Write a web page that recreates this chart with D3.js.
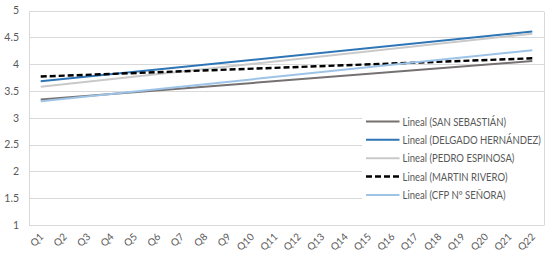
<!DOCTYPE html>
<html>
<head>
<meta charset="utf-8">
<script src="https://cdn.jsdelivr.net/npm/d3@7"></script>
<style>
  html, body { margin: 0; padding: 0; background: #ffffff; }
  svg { display: block; }
  text { font-family: Lato, "Open Sans", "Liberation Sans", sans-serif; fill: #595959; }
</style>
</head>
<body>
<svg id="chart" width="550" height="259"></svg>
<script>
// ---- data ----
const categories = ["Q1","Q2","Q3","Q4","Q5","Q6","Q7","Q8","Q9","Q10","Q11","Q12","Q13","Q14","Q15","Q16","Q17","Q18","Q19","Q20","Q21","Q22"];
const yTicks = [1, 1.5, 2, 2.5, 3, 3.5, 4, 4.5, 5];
const seriesNames = ["Lineal (SAN SEBASTIÁN)", "Lineal (DELGADO HERNÁNDEZ)", "Lineal (PEDRO ESPINOSA)", "Lineal (MARTIN RIVERO)", "Lineal (CFP Nº SEÑORA)"];
// linear trend lines: value at first category (Q1) and last category (Q22)
const trendStart = [3.34, 3.68, 3.58, 3.77, 3.31];
const trendEnd   = [4.06, 4.61, 4.57, 4.11, 4.26];
const seriesColors = ["#767171", "#2e75b6", "#c9c9c9", "#000000", "#9dc3e6"];
const seriesDash = [null, null, null, "6,3", null];

// ---- layout ----
const svg = d3.select("#chart");
const plotLeft = 29, plotRight = 544, plotTop = 10.6, plotBottom = 225;

const x = d3.scaleBand().domain(categories).range([plotLeft, plotRight]);
const y = d3.scaleLinear().domain([1, 5]).range([plotBottom, plotTop]);

// gridlines
const grid = svg.append("g");
grid.selectAll("line").data(yTicks).join("line")
  .attr("x1", plotLeft).attr("x2", plotRight)
  .attr("y1", d => Math.round(y(d)) + 0.5).attr("y2", d => Math.round(y(d)) + 0.5)
  .attr("stroke", "#d9d9d9").attr("stroke-width", 1);
// plot border verticals
svg.append("line").attr("x1", plotLeft + 0.5).attr("x2", plotLeft + 0.5)
  .attr("y1", Math.round(y(5)) + 0.5).attr("y2", Math.round(y(1)) + 0.5)
  .attr("stroke", "#d9d9d9");
svg.append("line").attr("x1", plotRight + 0.5).attr("x2", plotRight + 0.5)
  .attr("y1", Math.round(y(5)) + 0.5).attr("y2", Math.round(y(1)) + 0.5)
  .attr("stroke", "#d9d9d9");

// y axis labels
const yAxis = d3.axisLeft(y).tickValues(yTicks).tickSize(0).tickPadding(0)
  .tickFormat(d => String(d));
const gy = svg.append("g").attr("transform", `translate(${plotLeft - 10},0)`).call(yAxis);
gy.select(".domain").remove();
gy.selectAll("text").attr("font-size", 10.5).attr("fill", "#595959")
  .style("font-family", "Lato, 'Open Sans', sans-serif");

// x axis labels
const xAxis = d3.axisBottom(x).tickSize(0).tickPadding(0);
const gx = svg.append("g").attr("transform", `translate(0,${plotBottom})`).call(xAxis);
gx.select(".domain").remove();
gx.selectAll("text")
  .attr("font-size", 10).attr("fill", "#595959")
  .style("font-family", "Lato, 'Open Sans', sans-serif")
  .attr("text-anchor", "end")
  .attr("dy", "0.35em").attr("y", 0)
  .attr("transform", "translate(1,10) rotate(-45)");

// trend lines
const first = categories[0], last = categories[categories.length - 1];
const line = d3.line().x(d => x(d.c) + x.bandwidth() / 2).y(d => y(d.v));
const lines = svg.append("g");
seriesNames.forEach((name, i) => {
  const pts = [{c: first, v: trendStart[i]}, {c: last, v: trendEnd[i]}];
  lines.append("path")
    .attr("d", line(pts))
    .attr("fill", "none")
    .attr("stroke", seriesColors[i])
    .attr("stroke-width", i === 3 ? 2.4 : 2)
    .attr("stroke-dasharray", seriesDash[i]);
});

// legend
const legX = 362, legY0 = 121.5, legStep = 18.35, legTextX = 402.5;
const leg = svg.append("g");
leg.append("rect").attr("x", legX).attr("y", legY0 - 9).attr("width", plotRight - legX)
  .attr("height", legStep * 4 + 18).attr("fill", "#ffffff");
const legTexts = [];
seriesNames.forEach((name, i) => {
  const yy = legY0 + i * legStep;
  leg.append("line")
    .attr("x1", 366).attr("x2", 399.5).attr("y1", yy).attr("y2", yy)
    .attr("stroke", seriesColors[i])
    .attr("stroke-width", i === 3 ? 2.4 : 2)
    .attr("stroke-dasharray", seriesDash[i]);
  legTexts.push(leg.append("text")
    .attr("x", 0).attr("y", 0).attr("dy", "0.35em")
    .attr("transform", `translate(${legTextX},${yy})`)
    .attr("font-size", 11.5).attr("fill", "#595959")
    .text(name));
});
// condense legend text horizontally so the longest entry ends near the plot's right edge
const maxW = d3.max(legTexts, t => t.node().getComputedTextLength());
const avail = plotRight - legTextX - 3;
if (maxW > avail) {
  const k = avail / maxW;
  legTexts.forEach((t, i) => {
    const yy = legY0 + i * legStep;
    t.attr("transform", `translate(${legTextX},${yy}) scale(${k.toFixed(4)},1)`);
  });
}
</script>
</body>
</html>
